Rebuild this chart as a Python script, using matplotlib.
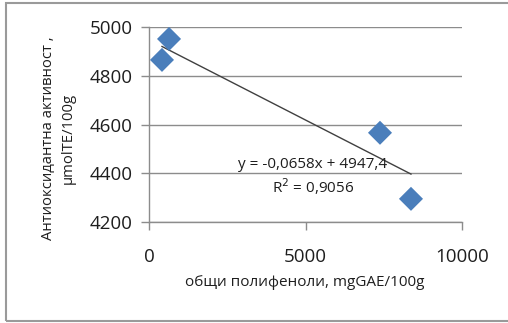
import matplotlib.pyplot as plt
import numpy as np
from matplotlib.patches import Rectangle

plt.rcParams["font.family"] = ["Open Sans", "DejaVu Sans"]

# data
polyphenols = [415, 640, 7380, 8370]
antioxidant = [4865, 4951, 4566, 4295]
slope = -0.0658
intercept = 4947.4
r_squared = 0.9056

x_ticks = [0, 5000, 10000]
y_ticks = [4200, 4400, 4600, 4800, 5000]

fig = plt.figure(figsize=(5.08, 3.23), dpi=100)
ax = fig.add_axes([149 / 508, 1 - 222 / 323, (462 - 149) / 508, (222 - 27) / 323])

grid_color = "#8c8c8c"
text_color = "#1e1e1e"
ax.set_xlim(0, 10000)
ax.set_ylim(4200, 5000)
ax.set_yticks(y_ticks)
ax.set_xticks(x_ticks)
ax.grid(axis="y", color=grid_color, linewidth=1)
ax.set_axisbelow(True)
for side in ["top", "right"]:
    ax.spines[side].set_visible(False)
for side in ["left", "bottom"]:
    ax.spines[side].set_color(grid_color)
    ax.spines[side].set_linewidth(1)
ax.tick_params(axis="both", colors=grid_color, length=6, width=1, labelsize=13.5,
               labelcolor=text_color)
ax.tick_params(axis="x", pad=13)
ax.tick_params(axis="y", pad=6)

# trendline over the data range
xs = np.array([min(polyphenols), max(polyphenols)])
ax.plot(xs, slope * xs + intercept, color="#404040", linewidth=1, zorder=2)

ax.scatter(polyphenols, antioxidant, marker="D", s=150, color="#4a7ebb",
           edgecolors="none", zorder=3)

ax.text(5230, 4434, "y = -0,0658x + 4947,4", fontsize=11, ha="center",
        va="center", color=text_color)
ax.text(5230, 4344, f"R$^2$ = {r_squared:.4f}".replace(".", ","), fontsize=11,
        ha="center", va="center", color=text_color)

fig.text(305 / 508, 1 - 282 / 323, "общи полифеноли, mgGAE/100g", fontsize=11,
         ha="center", va="center", color=text_color)
fig.text(58 / 508, 1 - 138 / 323, "Антиоксидантна активност ,\nμmolTE/100g",
         rotation=90, ha="center", va="center", fontsize=10.7, linespacing=1.45,
         color=text_color)

# outer chart border (right edge falls outside the picture)
fig.patches.append(Rectangle((6 / 508, 2 / 323), 1.0, 1 - 5 / 323,
                             transform=fig.transFigure, fill=False,
                             edgecolor="#9a9a9a", linewidth=1.5))

fig.savefig("out.png", dpi=100)
